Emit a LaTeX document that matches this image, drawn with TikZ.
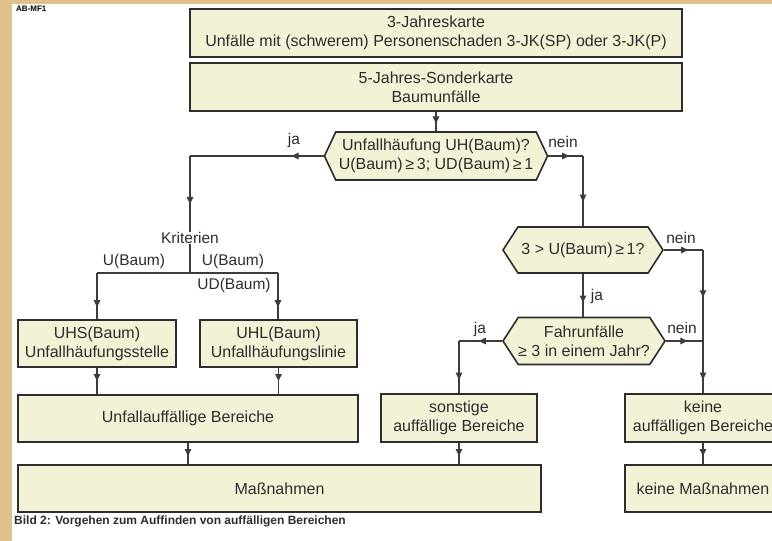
\documentclass[tikz,border=0pt]{standalone}
\usepackage{fontspec}
\setmainfont{Liberation Sans}
\usetikzlibrary{shapes.symbols,arrows.meta,decorations.markings,positioning}

\definecolor{boxfill}{RGB}{243,241,214}
\definecolor{wood}{RGB}{224,193,138}
\definecolor{linegray}{RGB}{60,60,60}
\definecolor{ink}{RGB}{45,45,45}

\tikzstyle{box} = [rectangle, draw=ink, fill=boxfill, line width=1.6pt, align=center, inner sep=0pt, text=ink, font=\fontsize{16}{19}\selectfont]
\tikzstyle{ask} = [signal, signal to=west and east, draw=ink, fill=boxfill, line width=1.6pt, align=center, inner sep=0pt, text=ink, font=\fontsize{16}{19}\selectfont]
\tikzstyle{lbl} = [inner sep=0pt, text=ink, font=\fontsize{15.5}{18}\selectfont]
\tikzstyle{conn} = [draw=linegray, color=linegray, line width=1.1pt]
\tikzset{tip/.style={conn, decoration={markings, mark=at position #1 with {\arrow{Triangle[length=7pt,width=6.5pt]}}}, postaction={decorate}}}

\begin{document}
\begin{tikzpicture}[x=1pt,y=-1pt]
  \useasboundingbox (0,0) rectangle (772,541);
  \clip (0,0) rectangle (772,541);
  \fill[wood] (0,0) rectangle (772,541);
  \fill[white] (12,4) rectangle (772,541);

  \node[anchor=base west, inner sep=0pt, font=\fontsize{8}{9}\selectfont\bfseries] (tag) at (16,11) {AB-MF1};

  % boxes
  \node[box, minimum width=492pt, minimum height=48pt] (top) at (436,33) {3-Jahreskarte\\Unfälle mit (schwerem) Personenschaden 3-JK(SP) oder 3-JK(P)};
  \node[box, minimum width=492pt, minimum height=48pt] (sonder) at (436,87) {5-Jahres-Sonderkarte\\Baumunfälle};
  \node[ask, signal pointer angle=130, minimum width=223pt, minimum height=48pt] (uh) at (436,156) {Unfallhäufung UH(Baum)?\\U(Baum)\,≥\,3; UD(Baum)\,≥\,1};
  \node[ask, signal pointer angle=114, minimum width=160pt, minimum height=46pt] (kleinu) at (583,250) {3 > U(Baum)\,≥\,1?};
  \node[ask, signal pointer angle=114, minimum width=160pt, minimum height=47pt] (fahr) at (584,341) {Fahrunfälle\\≥ 3 in einem Jahr?};
  \node[box, minimum width=158pt, minimum height=47pt] (uhs) at (97,343.5) {UHS(Baum)\\Unfallhäufungsstelle};
  \node[box, minimum width=157pt, minimum height=47pt] (uhl) at (278.5,343.5) {UHL(Baum)\\Unfallhäufungslinie};
  \node[box, minimum width=340pt, minimum height=47pt] (unfall) at (188,418.5) {Unfallauffällige Bereiche};
  \node[box, minimum width=156pt, minimum height=48pt] (sonst) at (459,418) {sonstige\\auffällige Bereiche};
  \node[box, minimum width=156pt, minimum height=48pt] (keineb) at (703,418) {keine\\auffälligen Bereiche};
  \node[box, minimum width=523pt, minimum height=47pt] (mass) at (279.5,488.5) {Maßnahmen};
  \node[box, minimum width=156pt, minimum height=47pt] (keinem) at (703,488.5) {keine Maßnahmen};

  % labels
  \node[lbl] (krit) at (190,238) {Kriterien};
  \node[lbl] (jaA) at (294,140) {ja};
  \node[lbl] (neinA) at (563,142) {nein};
  \node[lbl] (ubL) at (134,261) {U(Baum)};
  \node[lbl] (ubR) at (233,261) {U(Baum)};
  \node[lbl] (udR) at (234,285) {UD(Baum)};
  \node[lbl] (neinB) at (681,238) {nein};
  \node[lbl] (jaB) at (597,296) {ja};
  \node[lbl] (jaC) at (480,329) {ja};
  \node[lbl] (neinC) at (682,328) {nein};

  % corners
  \coordinate (jaturn) at (190,156);
  \coordinate (split) at (190,273);
  \coordinate (splitL) at (97,273);
  \coordinate (splitR) at (278,273);
  \coordinate (neinturn) at (583,156);
  \coordinate (neinturnB) at (703,250);
  \coordinate (join) at (703,341);
  \coordinate (jaturnC) at (459,341);

  % connectors
  \draw[tip=0.6] (sonder.south) -- (uh.north);
  \draw[tip=0.24] (uh.west) -- (jaturn);
  \draw[tip=0.63] (jaturn) -- (krit.north);
  \draw[conn] (krit.south) -- (split);
  \draw[conn] (splitL) -- (splitR);
  \draw[tip=0.74] (splitL) -- (uhs.north);
  \draw[tip=0.74] (splitR) -- (splitR |- uhl.north);
  \draw[tip=0.5] (uhs.south) -- (uhs.south |- unfall.north);
  \draw[tip=0.5] (uhl.south) -- (uhl.south |- unfall.north);
  \draw[tip=0.62] (unfall.south) -- (unfall.south |- mass.north);
  \draw[tip=0.6] (uh.east) -- (neinturn);
  \draw[tip=0.65] (neinturn) -- (kleinu.north);
  \draw[tip=0.62] (kleinu.east) -- (neinturnB);
  \draw[tip=0.52] (neinturnB) -- (join);
  \draw[tip=0.74] (join) -- (keineb.north);
  \draw[tip=0.67] (kleinu.south) -- (kleinu.south |- fahr.north);
  \draw[tip=0.54] (fahr.west) -- (jaturnC);
  \draw[tip=0.74] (jaturnC) -- (sonst.north);
  \draw[tip=0.58] (fahr.east) -- (join);
  \draw[tip=0.62] (sonst.south) -- (sonst.south |- mass.north);
  \draw[tip=0.62] (keineb.south) -- (keinem.north);

  \node[anchor=base west, inner sep=0pt, text=ink, font=\fontsize{12}{14}\selectfont\bfseries] (caption) at (14,524) {Bild 2: Vorgehen zum Auffinden von auffälligen Bereichen};
\end{tikzpicture}
\end{document}
